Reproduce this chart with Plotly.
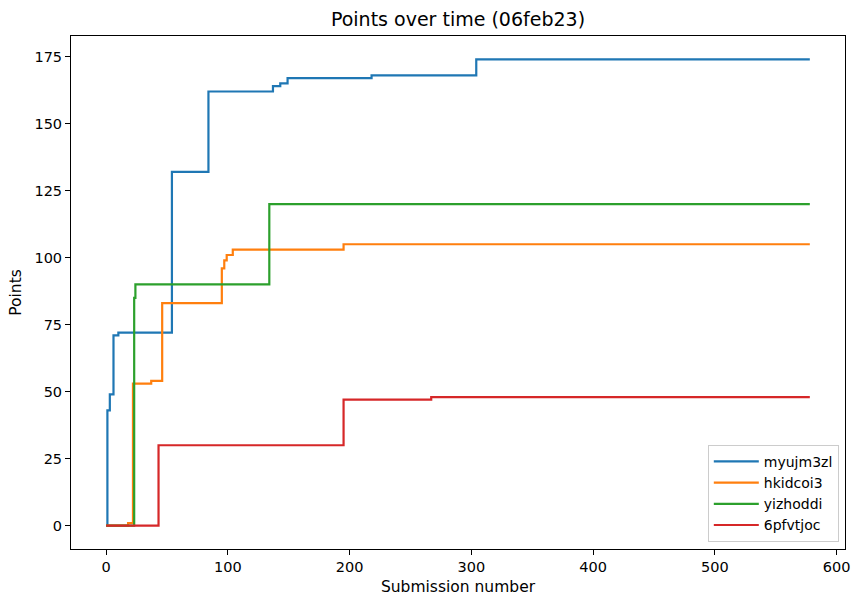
import plotly.graph_objects as go

# Step change points: (submission number where the new total starts, cumulative points)
names = ["myujm3zl", "hkidcoi3", "yizhoddi", "6pfvtjoc"]
colors = ["#1f77b4", "#ff7f0e", "#2ca02c", "#d62728"]

myujm3zl_x = [0, 1, 3, 6, 10, 54, 84, 137, 143, 149, 218, 304, 578]
myujm3zl_y = [0, 43, 49, 71, 72, 132, 162, 164, 165, 167, 168, 174, 174]

hkidcoi3_x = [0, 18, 22, 37, 46, 95, 97, 99, 104, 195, 578]
hkidcoi3_y = [0, 1, 53, 54, 83, 96, 99, 101, 103, 105, 105]

yizhoddi_x = [0, 23, 24, 134, 578]
yizhoddi_y = [0, 85, 90, 120, 120]

pfvtjoc_x = [0, 43, 195, 267, 578]
pfvtjoc_y = [0, 30, 47, 48, 48]

xs = [myujm3zl_x, hkidcoi3_x, yizhoddi_x, pfvtjoc_x]
ys = [myujm3zl_y, hkidcoi3_y, yizhoddi_y, pfvtjoc_y]

x_ticks = [0, 100, 200, 300, 400, 500, 600]
y_ticks = [0, 25, 50, 75, 100, 125, 150, 175]

fig = go.Figure()
for n, c, x, y in zip(names, colors, xs, ys):
    fig.add_trace(go.Scatter(x=x, y=y, mode="lines", name=n,
                             line=dict(color=c, width=2.2, shape="hv")))

font = "DejaVu Sans"
fig.update_layout(
    width=853, height=596,
    margin=dict(l=71, r=8, t=36, b=47),
    paper_bgcolor="white", plot_bgcolor="white",
    font=dict(family=font, size=14, color="black"),
    title=dict(text="Points over time (06feb23)", x=0.5, xref="paper",
               y=1, yref="paper", yanchor="bottom", pad=dict(b=10),
               font=dict(family=font, size=19, color="black")),
    showlegend=True,
    legend=dict(x=0.992, y=0.014, xanchor="right", yanchor="bottom",
                bgcolor="rgba(255,255,255,0.8)", bordercolor="#cccccc",
                borderwidth=1, font=dict(family=font, size=14),
                tracegroupgap=0, itemwidth=45),
)
fig.update_xaxes(range=[-28.9, 606.9], tickvals=x_ticks, showgrid=False, zeroline=False,
                 showline=True, linecolor="black", linewidth=1, mirror=True,
                 ticks="outside", ticklen=5, tickcolor="black", automargin=False,
                 tickfont=dict(family=font, size=14.5),
                 title=dict(text="Submission number", standoff=7,
                            font=dict(family=font, size=15.5)))
fig.update_yaxes(range=[-8.7, 182.7], tickvals=y_ticks, showgrid=False, zeroline=False,
                 showline=True, linecolor="black", linewidth=1, mirror=True,
                 ticks="outside", ticklen=5, tickcolor="black", automargin=False,
                 tickfont=dict(family=font, size=14.5),
                 title=dict(text="Points", standoff=8,
                            font=dict(family=font, size=15.5)))
fig.write_html("out.html", config={"displayModeBar": False},
               post_script="document.body.style.margin='0';document.body.style.padding='0';")
